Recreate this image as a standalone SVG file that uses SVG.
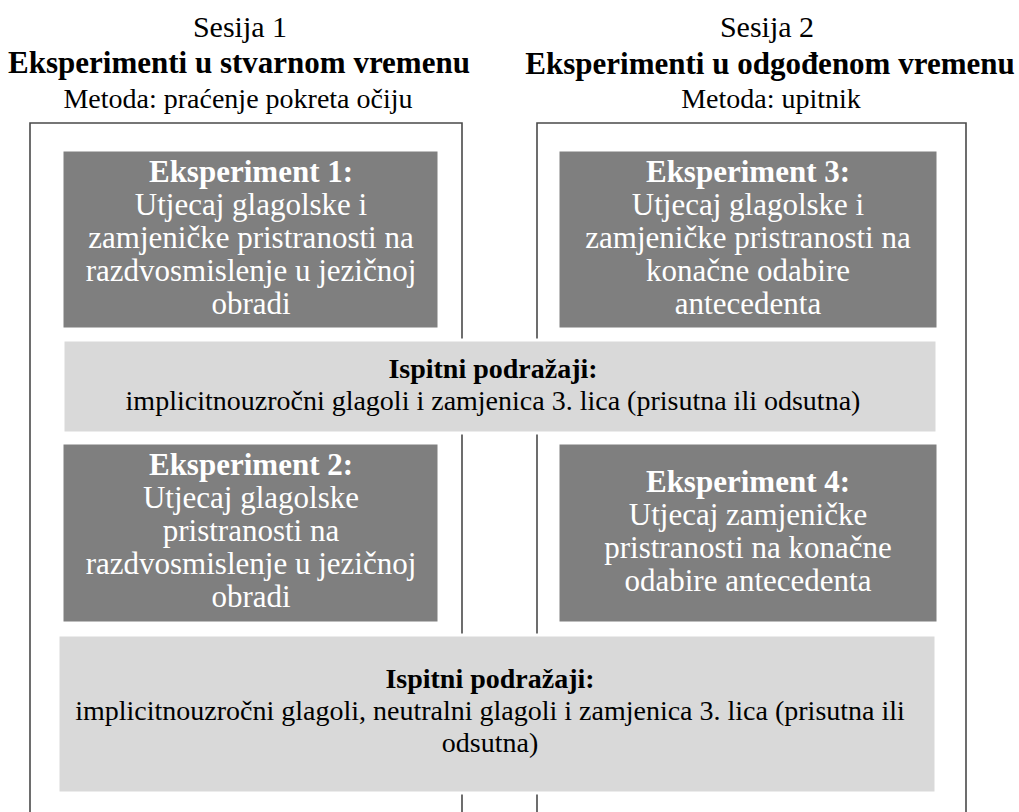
<svg xmlns="http://www.w3.org/2000/svg" width="1019" height="812" viewBox="0 0 1019 812">
<style>
text{font-family:"Liberation Serif","Times New Roman",serif;text-anchor:middle}
.hd{fill:#000;font-size:30px}
.hb{fill:#000;font-size:31px;font-weight:bold}
.hm{fill:#000;font-size:28px}
.dk{fill:#7f7f7f;stroke:#ffffff;stroke-width:1}
.lt{fill:#d9d9d9;stroke:#ffffff;stroke-width:3}
.wt{fill:#ffffff;font-size:31px}
.bt{fill:#000;font-size:28px}
.b{font-weight:bold}
.frame{fill:none;stroke:#4a4a4a;stroke-width:1.6}
</style>
<rect width="1019" height="812" fill="#ffffff"/>
<g id="header1">
<text class="hd" x="240" y="37">Sesija 1</text>
<text class="hb" x="239" y="73">Eksperimenti u stvarnom vremenu</text>
<text class="hm" x="238" y="108">Metoda: praćenje pokreta očiju</text>
</g>
<g id="header2">
<text class="hd" x="767" y="37">Sesija 2</text>
<text class="hb" x="770" y="74">Eksperimenti u odgođenom vremenu</text>
<text class="hm" x="771" y="108">Metoda: upitnik</text>
</g>
<g id="connectors">
<path id="session1-frame" class="frame" d="M30,812 V123 H462 V812"/>
<path id="session2-frame" class="frame" d="M537,812 V123 H966 V812"/>
</g>
<g id="exp1">
<rect class="dk" x="63" y="151" width="375" height="177"/>
<text class="wt b" x="251" y="182">Eksperiment 1:</text>
<text class="wt" x="251" y="215">Utjecaj glagolske i</text>
<text class="wt" x="251" y="248">zamjeničke pristranosti na</text>
<text class="wt" x="251" y="281">razdvosmislenje u jezičnoj</text>
<text class="wt" x="251" y="314">obradi</text>
</g>
<g id="exp3">
<rect class="dk" x="559" y="151" width="378" height="177"/>
<text class="wt b" x="748" y="182">Eksperiment 3:</text>
<text class="wt" x="748" y="215">Utjecaj glagolske i</text>
<text class="wt" x="748" y="248">zamjeničke pristranosti na</text>
<text class="wt" x="748" y="281">konačne odabire</text>
<text class="wt" x="748" y="314">antecedenta</text>
</g>
<g id="stimuli1">
<rect class="lt" x="63" y="340" width="874" height="93"/>
<text class="bt b" x="493" y="378">Ispitni podražaji:</text>
<text class="bt" x="493" y="410">implicitnouzročni glagoli i zamjenica 3. lica (prisutna ili odsutna)</text>
</g>
<g id="exp2">
<rect class="dk" x="63" y="444" width="375" height="178"/>
<text class="wt b" x="251" y="475">Eksperiment 2:</text>
<text class="wt" x="251" y="508">Utjecaj glagolske</text>
<text class="wt" x="251" y="541">pristranosti na</text>
<text class="wt" x="251" y="574">razdvosmislenje u jezičnoj</text>
<text class="wt" x="251" y="607">obradi</text>
</g>
<g id="exp4">
<rect class="dk" x="559" y="444" width="378" height="178"/>
<text class="wt b" x="748" y="492">Eksperiment 4:</text>
<text class="wt" x="748" y="525">Utjecaj zamjeničke</text>
<text class="wt" x="748" y="558">pristranosti na konačne</text>
<text class="wt" x="748" y="591">odabire antecedenta</text>
</g>
<g id="stimuli2">
<rect class="lt" x="58" y="635" width="878" height="158"/>
<text class="bt b" x="490" y="688">Ispitni podražaji:</text>
<text class="bt" x="490" y="720">implicitnouzročni glagoli, neutralni glagoli i zamjenica 3. lica (prisutna ili</text>
<text class="bt" x="490" y="752">odsutna)</text>
</g>
</svg>
